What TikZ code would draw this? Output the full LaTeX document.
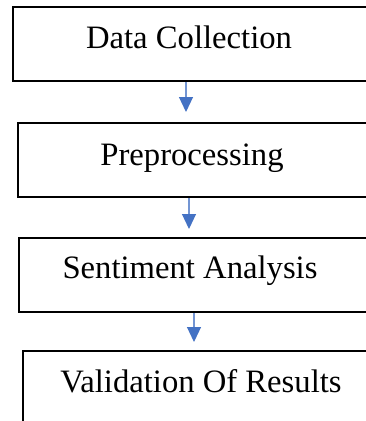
\documentclass[tikz,border=0pt]{standalone}
\usepackage{fontspec}
\setmainfont{Liberation Serif}
\usetikzlibrary{arrows.meta}
\definecolor{flowblue}{HTML}{4472C4}
\tikzset{
  stagebox/.style={draw=black, line width=1.5pt, rectangle, minimum width=300pt, minimum height=74*0.75pt, anchor=north west, inner sep=0pt},
  stagetext/.style={font=\fontsize{24.5}{28}\selectfont, inner sep=0pt, anchor=base},
  flow/.style={draw=flowblue!75, line width=0.9pt,
    -{Triangle[width=14*0.75pt, length=15*0.75pt, color=flowblue]}}
}
\begin{document}
\begin{tikzpicture}[x=0.75pt, y=-0.75pt]
  \useasboundingbox (0,0) rectangle (366,421);
  \clip (0,0) rectangle (366,421);
  % stage boxes (they run past the right edge of the page)
  \node[stagebox] (b1) at (12,6) {};
  \node[stagebox] (b2) at (17,122) {};
  \node[stagebox] (b3) at (18,237) {};
  \node[stagebox, minimum height=100pt] (b4) at (22,350) {};
  % stage labels
  \node[stagetext] (t1) at (189,48) {Data Collection};
  \node[stagetext] (t2) at (192,165) {Preprocessing};
  \node[stagetext] (t3) at (190,278) {Sentiment Analysis};
  \node[stagetext] (t4) at (201,392) {Validation Of Results};
  % connectors
  \coordinate (c1) at (186,0);
  \coordinate (c2) at (189,0);
  \coordinate (c3) at (194,0);
  \draw[flow, shorten >=7.5pt] (b1.south -| c1) -- (b2.north -| c1);
  \draw[flow, shorten >=6pt] (b2.south -| c2) -- (b3.north -| c2);
  \draw[flow, shorten >=6pt] (b3.south -| c3) -- (b4.north -| c3);
\end{tikzpicture}
\end{document}
